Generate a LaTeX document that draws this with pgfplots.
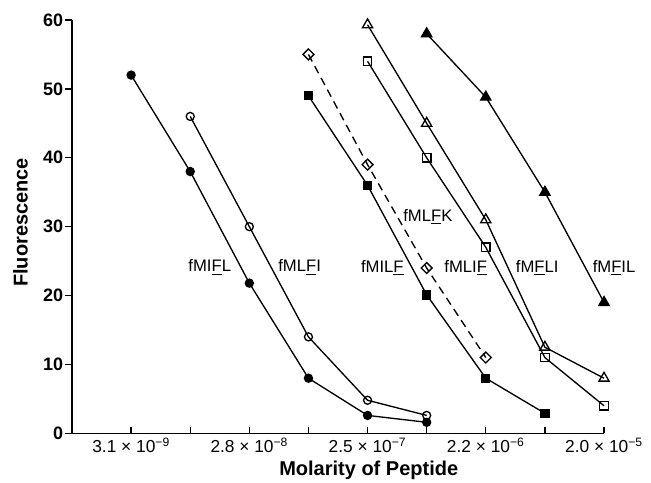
\documentclass[border=0pt]{standalone}
\usepackage{fontspec}
\setmainfont{Liberation Sans}
\usepackage{pgfplots}
\pgfplotsset{compat=1.18}
\begin{document}
\begin{tikzpicture}
\begin{axis}[
    scale only axis,
    width=399pt, height=310pt,
    xmin=0, xmax=9, ymin=0, ymax=60,
    clip=false,
    axis lines*=left,
    axis line style={-, line width=1.2pt},
    xtick align=inside,
    ytick align=outside,
    major tick length=5pt,
    tick style={black, line width=1pt},
    xtick={1,...,9},
    xticklabels={{3.1 × 10\textsuperscript{−9}},,{2.8 × 10\textsuperscript{−8}},,{2.5 × 10\textsuperscript{−7}},,{2.2 × 10\textsuperscript{−6}},,{2.0 × 10\textsuperscript{−5}}},
    ytick={0,10,...,60},
    /pgf/number format/assume math mode=true,
    yticklabel style={font=\fontsize{13.5}{16}\selectfont\bfseries, inner sep=1.5pt},
    xticklabel style={font=\fontsize{13}{16}\selectfont, anchor=north},
    xlabel={Molarity of Peptide},
    ylabel={Fluorescence},
    xlabel style={font=\fontsize{15}{18}\selectfont\bfseries, at={(axis cs:5.02,-6.1)}, anchor=base},
    ylabel style={font=\fontsize{15}{18}\selectfont\bfseries, at={(axis cs:-0.87,30.6)}, anchor=center},
    every axis plot/.append style={black, line width=1pt},
]
% fMIFL
\addplot[mark=*, mark size=3pt] coordinates {(1,52)(2,38)(3,21.8)(4,8)(5,2.6)(6,1.6)};
% fMLFI
\addplot[mark=o, mark size=3pt, mark options={fill=white}] coordinates {(2,46)(3,30)(4,14)(5,4.8)(6,2.6)};
% fMILF
\addplot[mark=square*, mark size=3pt] coordinates {(4,49)(5,36)(6,20.1)(7,8)(8,2.9)};
% fMLFK
\addplot[dash pattern=on 6pt off 4pt, mark=square, mark size=2.9pt, mark options={solid, fill=white, rotate=45}] coordinates {(4,55)(5,39)(6,24)(7,11)};
% fMLIF
\addplot[mark=square, mark size=3.2pt, mark options={fill=white}] coordinates {(5,54)(6,40)(7,27)(8,11)(9,4)};
% fMFLI
\addplot[mark=triangle, mark size=4.4pt, mark options={fill=white}] coordinates {(5,59.3)(6,45)(7,31)(8,12.5)(9,8)};
% fMFIL
\addplot[mark=triangle*, mark size=4.4pt] coordinates {(6,58)(7,48.8)(8,35)(9,19)};

\begin{scope}[every node/.style={font=\fontsize{12.5}{15}\selectfont}]
\node at (axis cs:2.33,24.1) {fMI\underline{F}L};
\node at (axis cs:3.85,24.1) {fML\underline{F}I};
\node at (axis cs:5.25,24.0) {fMIL\underline{F}};
\node at (axis cs:6.66,24.0) {fMLI\underline{F}};
\node at (axis cs:7.87,24.0) {fM\underline{F}LI};
\node at (axis cs:9.17,24.0) {fM\underline{F}IL};
\node at (axis cs:6.02,31.4) {fML\underline{F}K};
\end{scope}
\coordinate (bl) at (axis cs:-1.218,-7.12);
\coordinate (tr) at (axis cs:9.795,62.9);
\end{axis}
\pgfresetboundingbox
\path[use as bounding box] (bl) rectangle (tr);
\end{tikzpicture}
\end{document}
